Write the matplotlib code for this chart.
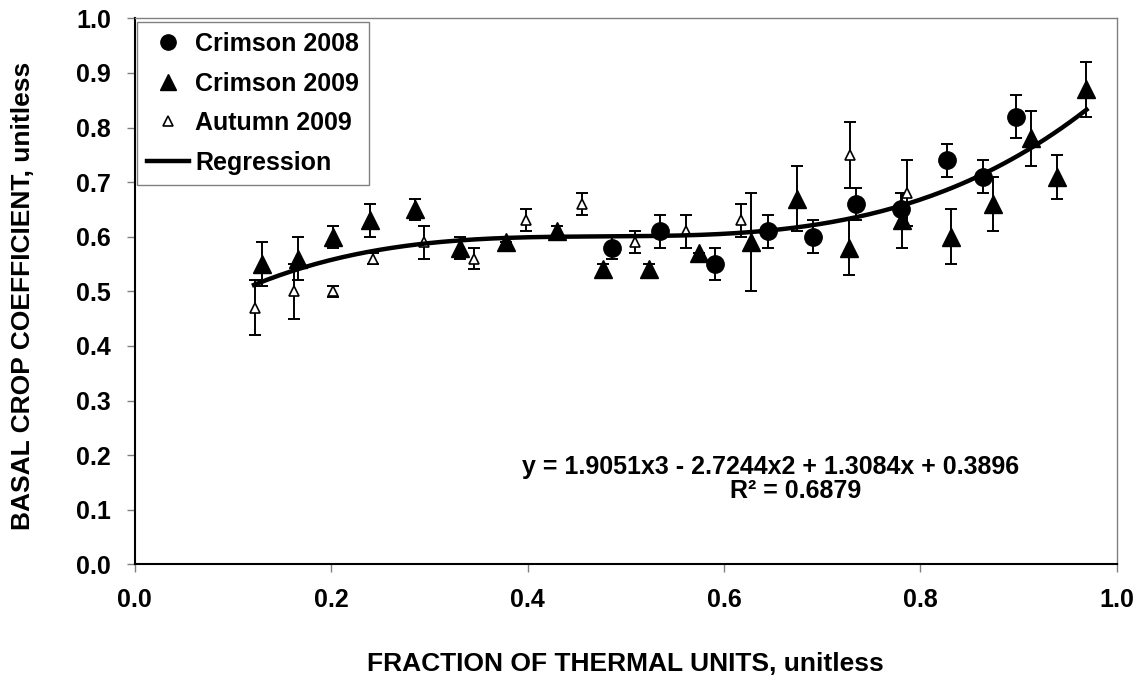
import numpy as np
import matplotlib
matplotlib.use("Agg")
import matplotlib.pyplot as plt

plt.rcParams['font.family'] = ['Liberation Sans', 'DejaVu Sans']
plt.rcParams['font.weight'] = 'bold'

# ---- data ----
c08_x = [0.486, 0.535, 0.591, 0.645, 0.691, 0.734, 0.780, 0.827, 0.864, 0.897]
c08_y = [0.58, 0.61, 0.55, 0.61, 0.60, 0.66, 0.65, 0.74, 0.71, 0.82]
c08_err = [0.02, 0.03, 0.03, 0.03, 0.03, 0.03, 0.03, 0.03, 0.03, 0.04]

c09_x = [0.130, 0.166, 0.202, 0.240, 0.285, 0.331, 0.378, 0.430, 0.477, 0.524,
         0.575, 0.627, 0.674, 0.727, 0.781, 0.831, 0.874, 0.912, 0.939, 0.969]
c09_y = [0.55, 0.56, 0.60, 0.63, 0.65, 0.58, 0.59, 0.61, 0.54, 0.54,
         0.57, 0.59, 0.67, 0.58, 0.63, 0.60, 0.66, 0.78, 0.71, 0.87]
c09_err = [0.04, 0.04, 0.02, 0.03, 0.02, 0.02, 0.0, 0.01, 0.01, 0.01,
           0.0, 0.09, 0.06, 0.05, 0.05, 0.05, 0.05, 0.05, 0.04, 0.05]

aut_x = [0.123, 0.162, 0.202, 0.243, 0.295, 0.345, 0.398, 0.455, 0.509, 0.561,
         0.617, 0.728, 0.786]
aut_y = [0.47, 0.50, 0.50, 0.56, 0.59, 0.56, 0.63, 0.66, 0.59, 0.61,
         0.63, 0.75, 0.68]
aut_err = [0.05, 0.05, 0.01, 0.01, 0.03, 0.02, 0.02, 0.02, 0.02, 0.03,
           0.03, 0.06, 0.06]

reg_coef = [1.9051, -2.7244, 1.3084, 0.3896]
reg_range = [0.1215, 0.969]

x_ticks = [0.0, 0.2, 0.4, 0.6, 0.8, 1.0]
y_ticks = [0.0, 0.1, 0.2, 0.3, 0.4, 0.5, 0.6, 0.7, 0.8, 0.9, 1.0]

FS = 18
FS_TITLE = 19

fig = plt.figure(figsize=(11.45, 6.79), dpi=100)
ax = fig.add_axes([0.1176, 0.1689, 0.8579, 0.8041])

ekw = dict(fmt='none', ecolor='black', elinewidth=1.4, capsize=4.5, capthick=1.4)
ax.errorbar(c08_x, c08_y, yerr=c08_err, zorder=2, **ekw)
ax.errorbar(c09_x, c09_y, yerr=c09_err, zorder=2, **ekw)
ax.errorbar(aut_x, aut_y, yerr=aut_err, zorder=2, **ekw)

h1, = ax.plot(c08_x, c08_y, 'o', color='black', markersize=12.5, linestyle='none', zorder=3)
h2, = ax.plot(c09_x, c09_y, '^', color='black', markersize=13.5, linestyle='none', zorder=3)
h3, = ax.plot(aut_x, aut_y, '^', markerfacecolor='white', markeredgecolor='black',
              markeredgewidth=1.2, markersize=7.5, linestyle='none', zorder=4)

xr = np.linspace(reg_range[0], reg_range[1], 200)
h4, = ax.plot(xr, np.polyval(reg_coef, xr), color='black', linewidth=3.2, zorder=5)

ax.set_xlim(0, 1.0)
ax.set_ylim(0, 1.0)
ax.set_xticks(x_ticks)
ax.set_yticks(y_ticks)
ax.set_xticklabels([f"{v:.1f}" for v in x_ticks], fontsize=FS, fontweight='bold')
ax.set_yticklabels([f"{v:.1f}" for v in y_ticks], fontsize=FS, fontweight='bold')
ax.tick_params(axis='both', direction='out', length=6, width=1, color='#808080', pad=11)

for s in ['left', 'bottom']:
    ax.spines[s].set_color('black')
    ax.spines[s].set_linewidth(1.5)
for s in ['top', 'right']:
    ax.spines[s].set_color('#808080')
    ax.spines[s].set_linewidth(1.0)

fig.text(625 / 1145, 1 - 664 / 679, 'FRACTION OF THERMAL UNITS, unitless', ha='center', va='center',
         fontsize=FS_TITLE, fontweight='bold')
fig.text(23 / 1145, 1 - 296 / 679, 'BASAL CROP COEFFICIENT, unitless', ha='center', va='center',
         rotation=90, fontsize=FS_TITLE, fontweight='bold')

ax.text(771 / 1145, 1 - 467 / 679, 'y = 1.9051x3 - 2.7244x2 + 1.3084x + 0.3896',
        transform=fig.transFigure, ha='center', va='center', fontsize=FS, fontweight='bold')
ax.text(796 / 1145, 1 - 491 / 679, 'R² = 0.6879',
        transform=fig.transFigure, ha='center', va='center', fontsize=FS, fontweight='bold')

leg = ax.legend([h1, h2, h3, h4], ['Crimson 2008', 'Crimson 2009', 'Autumn 2009', 'Regression'],
                loc='upper left', bbox_to_anchor=(0.002, 0.993), frameon=True, fancybox=False,
                edgecolor='#808080', framealpha=1, prop={'size': FS, 'weight': 'bold'},
                handlelength=1.7, handletextpad=0.25, borderpad=0.4, labelspacing=0.62,
                borderaxespad=0.0)
leg.get_frame().set_linewidth(1.0)
for lh in leg.legend_handles[:2]:
    lh.set_markersize(11)

fig.savefig('out.png', dpi=100)
